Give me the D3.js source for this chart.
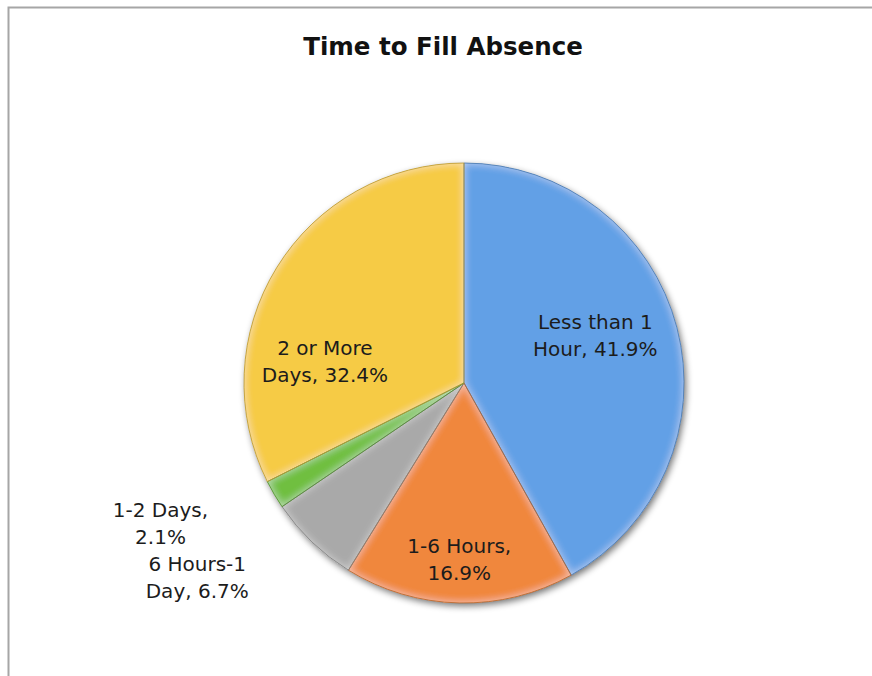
<!DOCTYPE html>
<html>
<head>
<meta charset="utf-8">
<script src="https://cdn.jsdelivr.net/npm/d3@7"></script>
<style>
  html, body { margin: 0; padding: 0; background: #fff; }
  svg { display: block; }
</style>
</head>
<body>
<svg id="chart" width="872" height="676"></svg>
<script>
// ---- data ----
const categories = ["Less than 1 Hour", "1-6 Hours", "6 Hours-1 Day", "1-2 Days", "2 or More Days"];
const values = [41.9, 16.9, 6.7, 2.1, 32.4];
const labelLines = [
  ["Less than 1", "Hour, 41.9%"],
  ["1-6 Hours,", "16.9%"],
  ["6 Hours-1", "Day, 6.7%"],
  ["1-2 Days,", "2.1%"],
  ["2 or More", "Days, 32.4%"]
];
const colors = ["#62a0e6", "#f0873c", "#a9a9a9", "#6fbf3f", "#f6cb44"];
const title = "Time to Fill Absence";

// ---- label placement (radius as fraction of pie radius, angle shift in degrees) ----
const labelRadius = [0.635, 0.80, 1.50, 1.52, 0.64];
const labelAngleShift = [-5.4, 0.3, 10.2, 5.6, -22.7];

// ---- layout ----
const W = 872, H = 676;
const cx = 464, cy = 383, R = 220;
const svg = d3.select("#chart");

const defs = svg.append("defs");
const sh = defs.append("filter").attr("id", "shadow").attr("x", "-20%").attr("y", "-20%").attr("width", "140%").attr("height", "140%");
sh.append("feGaussianBlur").attr("in", "SourceAlpha").attr("stdDeviation", 3.5).attr("result", "b");
sh.append("feOffset").attr("in", "b").attr("dx", 2).attr("dy", 3).attr("result", "o");
sh.append("feComponentTransfer").attr("in", "o").attr("result", "o2")
  .append("feFuncA").attr("type", "linear").attr("slope", 0.55);
const shm = sh.append("feMerge");
shm.append("feMergeNode").attr("in", "o2");
shm.append("feMergeNode").attr("in", "SourceGraphic");

// soft bevel: lighter band along the inside of every edge
const bev = defs.append("filter").attr("id", "bevel").attr("x", "-5%").attr("y", "-5%").attr("width", "110%").attr("height", "110%");
bev.append("feGaussianBlur").attr("in", "SourceAlpha").attr("stdDeviation", 4).attr("result", "blur");
bev.append("feComponentTransfer").attr("in", "blur").attr("result", "inv")
  .append("feFuncA").attr("type", "table").attr("tableValues", "1 0");
bev.append("feComposite").attr("in", "inv").attr("in2", "SourceAlpha").attr("operator", "in").attr("result", "edge");
bev.append("feFlood").attr("flood-color", "#ffffff").attr("flood-opacity", 0.45).attr("result", "white");
bev.append("feComposite").attr("in", "white").attr("in2", "edge").attr("operator", "in").attr("result", "hl");
const bm = bev.append("feMerge");
bm.append("feMergeNode").attr("in", "SourceGraphic");
bm.append("feMergeNode").attr("in", "hl");

// frame
svg.append("rect").attr("x", 8.5).attr("y", 7.5).attr("width", 900).attr("height", 700)
  .attr("fill", "#fff").attr("stroke", "#a6a6a6").attr("stroke-width", 2);

// title
svg.append("text").attr("x", 443).attr("y", 55).attr("text-anchor", "middle")
  .attr("font-family", "DejaVu Sans").attr("font-weight", "bold").attr("font-size", 24.5)
  .attr("fill", "#111").text(title);

const pie = d3.pie().sort(null).value(d => d)(values);
const arc = d3.arc().innerRadius(0).outerRadius(R);

const g = svg.append("g").attr("transform", `translate(${cx},${cy})`);
const shadowG = g.append("g").attr("filter", "url(#shadow)");
shadowG.selectAll("path").data(pie).enter().append("path")
  .attr("d", arc).attr("fill", (d, i) => colors[i]);

const slices = g.append("g");
slices.selectAll("path").data(pie).enter().append("path")
  .attr("d", arc)
  .attr("fill", (d, i) => colors[i])
  .attr("filter", "url(#bevel)");
slices.selectAll("path.edge").data(pie).enter().append("path")
  .attr("class", "edge")
  .attr("d", arc)
  .attr("fill", "none")
  .attr("stroke", (d, i) => d3.color(colors[i]).darker(0.8))
  .attr("stroke-opacity", 0.8)
  .attr("stroke-width", 1);

// labels
const lineH = 27;
const fs = 20;
pie.forEach((d, i) => {
  const a = (d.startAngle + d.endAngle) / 2 + labelAngleShift[i] * Math.PI / 180;
  const r = labelRadius[i] * R;
  const lx = Math.sin(a) * r, ly = -Math.cos(a) * r;
  const lines = labelLines[i];
  const first = ly - lineH * (lines.length - 1) / 2 + fs * 0.73 / 2;
  const t = g.append("text").attr("text-anchor", "middle")
    .attr("font-family", "DejaVu Sans").attr("font-size", fs).attr("fill", "#1c1c1c");
  lines.forEach((ln, j) => {
    t.append("tspan").attr("x", lx).attr("y", first + j * lineH).text(ln);
  });
});
</script>
</body>
</html>
